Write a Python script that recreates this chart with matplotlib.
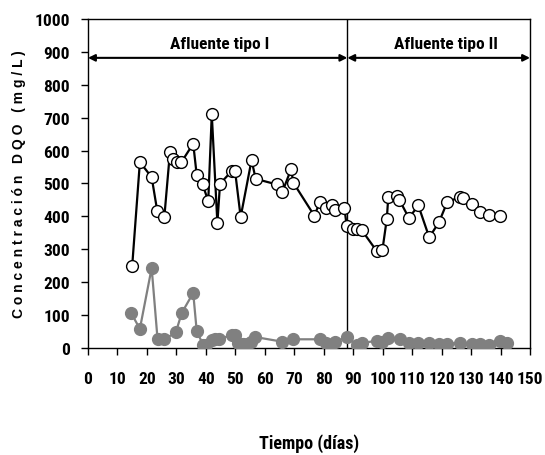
import matplotlib
matplotlib.use("Agg")
import matplotlib.pyplot as plt
from matplotlib import font_manager

# ---- data ----
dias_afl = [15, 17.6, 21.6, 23.5, 25.9, 27.8, 28.7, 30.1, 31.7, 35.7, 36.9, 38.9,
            40.8, 42.0, 43.9, 44.8, 48.8, 49.9, 51.8, 55.5, 56.9, 64.0, 65.9,
            68.9, 69.7, 76.8, 78.7, 80.7, 82.7, 83.8, 87.0, 87.8, 90.0, 91.2,
            92.9, 98.0, 99.9, 101.4, 101.9, 104.7, 105.6, 108.9, 112.1, 115.8,
            119.1, 121.9, 126.2, 127.1, 130.2, 133.0, 136.1, 139.8]
dqo_afl = [250, 565, 519, 416, 398, 595, 573, 565, 565, 621, 525, 497,
           446, 710, 380, 499, 538, 538, 398, 571, 514, 497, 473,
           543, 502, 402, 443, 426, 434, 419, 426, 370, 362, 360,
           358, 294, 297, 392, 459, 463, 451, 395, 433, 336,
           382, 443, 459, 456, 439, 414, 405, 402]

dias_efl = [14.6, 17.6, 21.6, 23.6, 25.9, 29.8, 31.8, 35.7, 36.9, 39.1, 40.2,
            42.0, 43.1, 44.6, 48.8, 49.9, 51.0, 52.5, 53.8, 55.2, 56.7, 65.7,
            69.5, 78.7, 80.7, 82.1, 83.8, 87.8, 91.2, 92.9, 98.0, 99.6, 101.9,
            105.9, 108.9, 112.1, 115.8, 119.1, 121.9, 126.2, 130.2, 133.0,
            136.1, 139.8, 142.3]
dqo_efl = [106, 58, 243, 26, 26, 47, 106, 167, 50, 9, 9,
           24, 26, 26, 40, 40, 14, 12, 12, 19, 33, 19,
           26, 26, 14, 9, 19, 32, 9, 14, 22, 19, 30,
           26, 14, 14, 16, 12, 12, 16, 12, 12,
           9, 22, 16]

cambio = 88
etiquetas = ["Afluente tipo I", "Afluente tipo II"]

# ---- fonts: pick a narrow bold face if there is one ----
installed = {(f.name, f.weight) for f in font_manager.fontManager.ttflist}
narrow = None
for cand in ["Liberation Sans Narrow", "Roboto Condensed", "Arimo Narrow",
             "Fira Sans Condensed", "Barlow Semi Condensed"]:
    if (cand, 700) in installed or (cand, "bold") in installed:
        narrow = cand
        break
if narrow:
    num_font = dict(family=[narrow, "DejaVu Sans"], weight="bold")
else:
    num_font = dict(family=["DejaVu Sans"], weight="bold", stretch="condensed")

fig = plt.figure(figsize=(5.45, 4.56), dpi=100)
ax = fig.add_axes([0.1615, 0.235, 0.811, 0.721])

ax.plot(dias_afl, dqo_afl, color="black", lw=1.6, marker="o", ms=8.5,
        mfc="white", mec="black", mew=1.0, zorder=3)
ax.plot(dias_efl, dqo_efl, color="#808080", lw=1.6, marker="o", ms=8.5,
        mfc="#808080", mec="#808080", zorder=3)

ax.set_xlim(0, 150)
ax.set_ylim(0, 1000)
ax.set_xticks(range(0, 151, 10))
ax.set_yticks(range(0, 1001, 100))

# separation line + arrows
ax.axvline(cambio, color="black", lw=1.0, zorder=2)
arrow_kw = dict(arrowstyle="<|-|>", color="black", lw=1.5, mutation_scale=10,
                shrinkA=0, shrinkB=0)
ax.annotate("", xy=(0, 882), xytext=(cambio, 882), arrowprops=arrow_kw)
ax.annotate("", xy=(cambio, 882), xytext=(150, 882), arrowprops=arrow_kw)
ax.text(44.5, 925, etiquetas[0], ha="center", va="center", fontsize=12.5, **num_font)
ax.text(121.5, 925, etiquetas[1], ha="center", va="center", fontsize=12.5, **num_font)

for s in ax.spines.values():
    s.set_linewidth(1.0)
ax.tick_params(direction="out", length=5, width=1)
ax.tick_params(axis="x", pad=12)
ax.tick_params(axis="y", pad=8)
for lab in ax.get_xticklabels() + ax.get_yticklabels():
    lab.set_fontproperties(font_manager.FontProperties(size=12.5, **num_font))

ax.set_xlabel("Tiempo (días)", fontsize=13, labelpad=34, **num_font)
ax.set_ylabel("C o n c e n t r a c i ó n   D Q O   ( m g / L )", fontsize=10,
              fontweight="bold", family=["Liberation Sans", "DejaVu Sans"], labelpad=6)

fig.savefig("out.png", dpi=100)
plt.close(fig)
